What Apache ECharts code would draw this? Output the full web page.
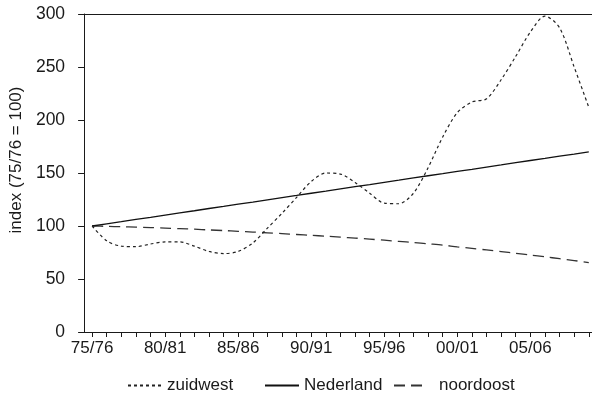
<!DOCTYPE html>
<html>
<head>
<meta charset="utf-8">
<script src="https://cdn.jsdelivr.net/npm/echarts@6/dist/echarts.min.js"></script>
<style>
  html, body { margin: 0; padding: 0; background: #fff; }
  #chart { width: 592px; height: 398px; }
</style>
</head>
<body>
<div id="chart"></div>
<script>
// Seasons 75/76 .. 09/10
const seasons = ['75/76','76/77','77/78','78/79','79/80','80/81','81/82','82/83','83/84','84/85',
  '85/86','86/87','87/88','88/89','89/90','90/91','91/92','92/93','93/94','94/95',
  '95/96','96/97','97/98','98/99','99/00','00/01','01/02','02/03','03/04','04/05',
  '05/06','06/07','07/08','08/09','09/10'];

// Index values (75/76 = 100)
const zuidwest = [100, 86, 81, 80.5, 83, 85, 85, 81, 76, 74,
  76, 84, 98, 112, 127, 142, 150, 149, 141, 131,
  121.5, 121, 131, 155, 184, 207, 217, 220, 238, 260,
  283, 298, 287, 250, 212];
const nederland = [100, 102.1, 104.1, 106.2, 108.2, 110.3, 112.4, 114.4, 116.5, 118.5,
  120.6, 122.6, 124.7, 126.8, 128.8, 130.9, 132.9, 135, 137.1, 139.1,
  141.2, 143.2, 145.3, 147.4, 149.4, 151.5, 153.5, 155.6, 157.6, 159.7,
  161.8, 163.8, 165.9, 167.9, 170];
const noordoost = [100, 99.7, 99.3, 99, 98.5, 98, 97.5, 97, 96.3, 95.7,
  95, 94.3, 93.6, 92.8, 92, 91.2, 90.4, 89.5, 88.6, 87.6,
  86.6, 85.5, 84.4, 83.2, 82, 80.3, 78.9, 77.4, 75.9, 74.3,
  72.6, 70.9, 69.2, 67.4, 65.5];

const yTicks = [0, 50, 100, 150, 200, 250, 300];
const labelEvery = 5;

const FONT = 'Liberation Sans, Arial, sans-serif';
const INK = '#1a1a1a';

const idx = seasons.map((_, i) => i);
const pairs = arr => arr.map((v, i) => [i, v]);

const chart = echarts.init(document.getElementById('chart'), null, { renderer: 'canvas' });

const legendBase = {
  orient: 'horizontal',
  top: 377,
  padding: 0,
  itemWidth: 34,
  itemHeight: 20,
  itemGap: 0,
  itemStyle: { opacity: 0 },
  textStyle: { fontFamily: FONT, fontSize: 17, color: INK },
  selectedMode: false
};

chart.setOption({
  animation: false,
  backgroundColor: '#fff',
  grid: { left: 83, right: 0, top: 14, bottom: 66, containLabel: false },
  xAxis: [
    {
      type: 'value',
      min: -0.55,
      max: 34.22,
      position: 'bottom',
      axisLine: { show: true, onZero: false, lineStyle: { color: INK, width: 1 } },
      axisTick: { show: true, length: 5, customValues: idx, lineStyle: { color: INK, width: 1 } },
      axisLabel: {
        show: true,
        customValues: idx.filter(i => i % labelEvery === 0),
        formatter: v => seasons[Math.round(v)] || '',
        fontFamily: FONT, fontSize: 17, color: INK, margin: 8
      },
      splitLine: { show: false }
    },
    {
      type: 'value',
      min: -0.55,
      max: 34.22,
      position: 'top',
      axisLine: { show: true, onZero: false, lineStyle: { color: INK, width: 1 } },
      axisTick: { show: false },
      axisLabel: { show: false },
      splitLine: { show: false }
    }
  ],
  yAxis: {
    type: 'value',
    min: yTicks[0],
    max: yTicks[yTicks.length - 1],
    interval: 50,
    name: 'index (75/76 = 100)',
    nameLocation: 'middle',
    nameGap: 40,
    nameRotate: 90,
    nameTextStyle: { fontFamily: FONT, fontSize: 17, color: INK, padding: [0, 0, 0, 26] },
    axisLine: { show: true, onZero: false, lineStyle: { color: INK, width: 1 } },
    axisTick: { show: true, inside: false, length: 6, lineStyle: { color: INK, width: 1 } },
    axisLabel: { fontFamily: FONT, fontSize: 17.5, color: INK, margin: 19 },
    splitLine: { show: false }
  },
  legend: [
    Object.assign({}, legendBase, { left: 127, data: ['zuidwest'] }),
    Object.assign({}, legendBase, { left: 264, data: ['Nederland'] }),
    Object.assign({}, legendBase, {
      left: 393,
      data: ['noordoost'],
      textStyle: Object.assign({}, legendBase.textStyle, { padding: [0, 0, 0, 6] })
    })
  ],
  series: [
    {
      name: 'zuidwest',
      type: 'line',
      data: pairs(zuidwest),
      smooth: 0.3,
      symbol: 'none',
      lineStyle: { color: '#222', width: 1.2, type: [3, 3] },
      itemStyle: { color: '#222' },
      z: 3
    },
    {
      name: 'Nederland',
      type: 'line',
      data: pairs(nederland),
      symbol: 'none',
      lineStyle: { color: '#111', width: 1.3, type: 'solid' },
      itemStyle: { color: '#111' },
      z: 2
    },
    {
      name: 'noordoost',
      type: 'line',
      data: pairs(noordoost),
      smooth: 0.3,
      symbol: 'none',
      lineStyle: { color: '#333', width: 1.3, type: [11, 6] },
      itemStyle: { color: '#333' },
      z: 1
    }
  ]
});
</script>
</body>
</html>
